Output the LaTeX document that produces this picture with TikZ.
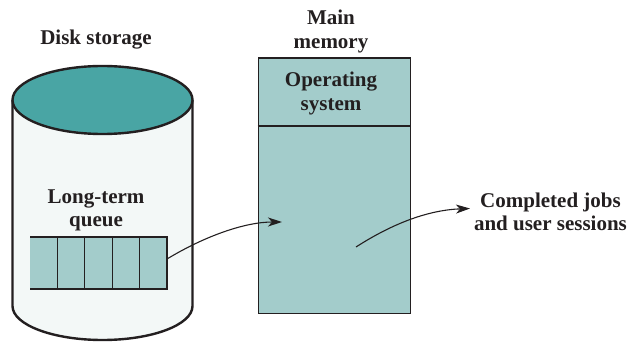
\documentclass[tikz,border=0pt]{standalone}
\usepackage{fontspec}
\setmainfont{Liberation Serif}
\usetikzlibrary{arrows.meta}
\definecolor{tealtop}{HTML}{49A5A4}
\definecolor{diskbody}{HTML}{F3F8F7}
\definecolor{memc}{HTML}{A3CCCB}
\definecolor{ink}{HTML}{231F20}
\begin{document}
\begin{tikzpicture}[x=1pt,y=-1pt,
  lbl/.style={font=\bfseries\fontsize{21}{24}\selectfont, text=ink, align=center, inner sep=0pt, anchor=base},
  conn/.style={draw=ink, line width=1.1pt, -{Stealth[length=14pt,width=9pt,inset=4pt]}},
  thin/.style={draw=ink, line width=1.1pt}]
\useasboundingbox (0,0) rectangle (630,342);
% disk cylinder
\draw[ink, line width=2.4pt, fill=diskbody] (12.5,100) -- (12.5,306)
  arc[start angle=180, end angle=360, x radius=90pt, y radius=34pt] -- (192.5,100);
\draw[ink, line width=2.4pt, fill=tealtop] (102.5,100) ellipse[x radius=90pt, y radius=34pt];
% queue
\fill[memc] (30,237) rectangle (167,289);
\draw[thin] (30,237) -- (167,237) -- (167,289) -- (30,289);
\foreach \x in {57.4,84.8,112.2,139.6} \draw[thin] (\x,237) -- (\x,289);
\coordinate (qout) at (167,259);
% main memory
\node[draw=ink, fill=memc, line width=1.3pt, minimum width=152.5pt, minimum height=255.5pt,
  inner sep=0pt, anchor=north west] (mem) at (257.5,57.5) {};
\draw[draw=ink, line width=1.3pt] (mem.west |- 0,126) -- (mem.east |- 0,126);
\coordinate (memin) at (282,222);
\coordinate (memout) at (356,247);
\coordinate (done) at (470,208.5);
% labels
\node[lbl] (disk) at (96,45) {Disk storage};
\node[lbl] (ltq) at (96,227) {Long-term\\queue};
\node[lbl] (mainmem) at (331,49) {Main\\memory};
\node[lbl] (os) at (331,111) {Operating\\system};
\node[lbl] (compl) at (550.5,231) {Completed jobs\\and user sessions};
% connectors
\draw[conn] (qout) .. controls (205,236) and (245,222) .. (memin);
\draw[conn] (memout) .. controls (395,222) and (430,210) .. (done);
\end{tikzpicture}
\end{document}
